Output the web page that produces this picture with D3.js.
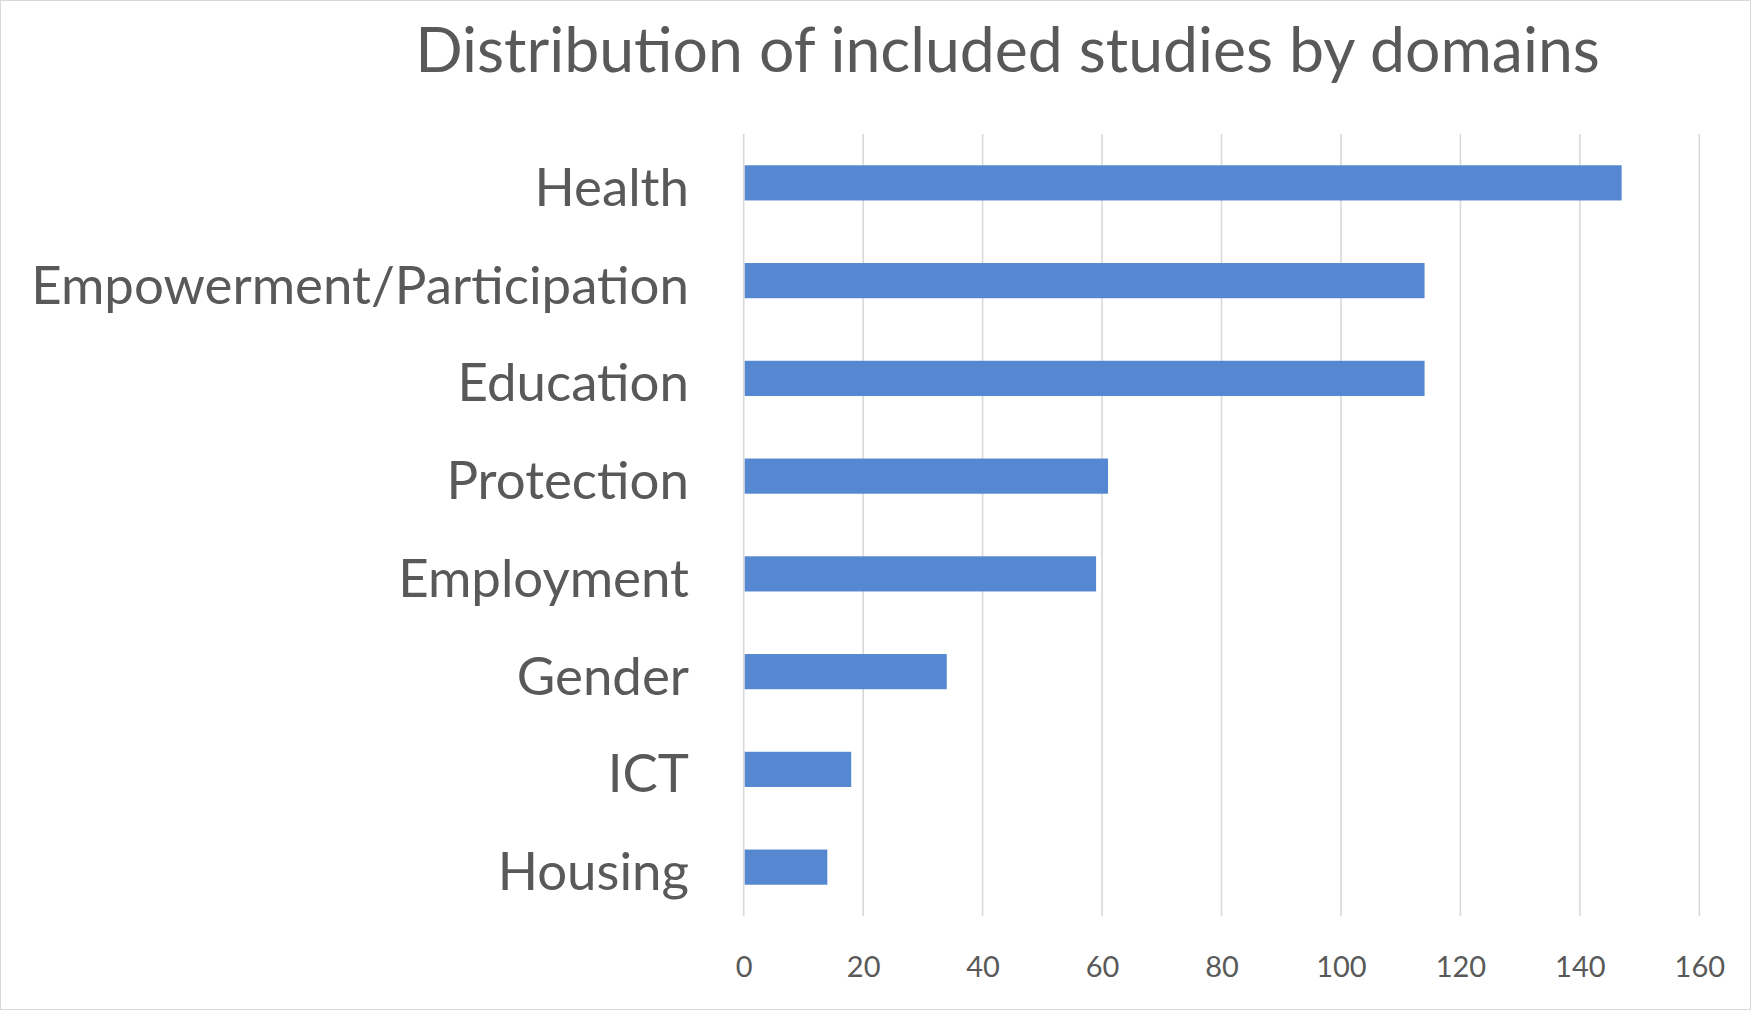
<!DOCTYPE html>
<html>
<head>
<meta charset="utf-8">
<script src="https://cdn.jsdelivr.net/npm/d3@7"></script>
<style>
  html, body { margin: 0; padding: 0; background: #fff; }
  svg { display: block; }
  text { font-family: Lato, "Open Sans", sans-serif; fill: #595959; }
</style>
</head>
<body>
<svg id="chart" width="1751" height="1010"></svg>
<script>
const titleText = "Distribution of included studies by domains";
const categories = ["Health", "Empowerment/Participation", "Education", "Protection", "Employment", "Gender", "ICT", "Housing"];
const values = [147, 114, 114, 61, 59, 34, 18, 14];
const xTicks = [0, 20, 40, 60, 80, 100, 120, 140, 160];

const svg = d3.select("#chart");
const W = 1751, H = 1010;
const m = { left: 743.7, right: W - 1699.3, top: 134, bottom: H - 916 };

svg.append("rect").attr("x", 0.5).attr("y", 0.5).attr("width", W - 1).attr("height", H - 1)
  .attr("fill", "#fff").attr("stroke", "#d9d9d9").attr("stroke-width", 1);

const x = d3.scaleLinear().domain([0, 160]).range([m.left, W - m.right]);
const y = d3.scaleBand().domain(categories).range([m.top, H - m.bottom])
  .paddingInner(0.64).paddingOuter(0.32);

// gridlines
svg.append("g").selectAll("line").data(xTicks).join("line")
  .attr("x1", d => x(d)).attr("x2", d => x(d))
  .attr("y1", m.top).attr("y2", H - m.bottom)
  .attr("stroke", "#d9d9d9").attr("stroke-width", 1.6);

// bars
svg.append("g").selectAll("rect").data(categories).join("rect")
  .attr("x", x(0) + 1)
  .attr("y", d => y(d))
  .attr("width", (d, i) => x(values[i]) - x(0) - 1)
  .attr("height", y.bandwidth())
  .attr("fill", "#5588d0");

// x axis tick labels
const xAxis = d3.axisBottom(x).tickValues(xTicks).tickSize(0).tickPadding(0);
const gx = svg.append("g").attr("transform", `translate(0, ${977})`).call(xAxis);
gx.select(".domain").remove();
gx.selectAll("text").attr("dy", 0).attr("y", 0)
  .style("font-size", "29px").style("fill", "#595959")
  .style("font-family", "Lato, 'Open Sans', sans-serif");

// category labels
const labels = svg.append("g").selectAll("text").data(categories).join("text")
  .attr("x", 689)
  .attr("y", d => y(d) + y.bandwidth() / 2 + 23)
  .attr("text-anchor", "end")
  .style("font-size", "56px")
  .text(d => d);
// fit label font so the widest matches reference width
const emp = labels.filter(d => d === "Empowerment/Participation").node();
const lw = emp.getComputedTextLength();
labels.style("font-size", (56 * 658 / lw) + "px");

// title
const title = svg.append("text")
  .attr("x", 1007.5).attr("y", 72)
  .attr("text-anchor", "middle")
  .style("font-size", "64px")
  .text(titleText);
const tw = title.node().getComputedTextLength();
title.style("font-size", (64 * 1185 / tw) + "px");
</script>
</body>
</html>
